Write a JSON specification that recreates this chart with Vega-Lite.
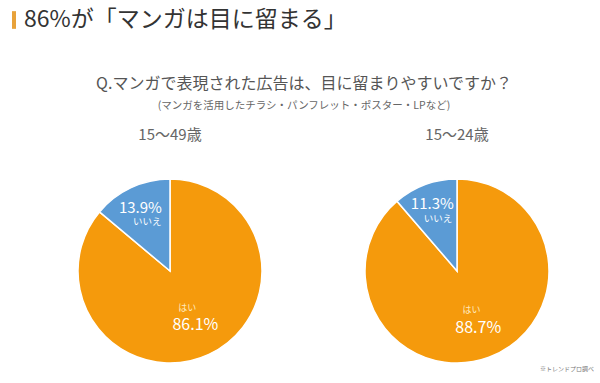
{
  "$schema": "https://vega.github.io/schema/vega-lite/v6.json",
  "padding": {"left": 12, "top": 7, "right": 0, "bottom": 0},
  "background": "white",
  "config": {"font": "Noto Sans CJK JP", "view": {"stroke": null}},
  "title": {"text": "※トレンドプロ調べ", "orient": "bottom", "anchor": "end", "fontSize": 6, "fontWeight": "normal", "color": "#777", "offset": 0, "dx": 8},
  "data": {"values": [
    {"group": "15〜49歳", "answer": "はい", "value": 86.1},
    {"group": "15〜49歳", "answer": "いいえ", "value": 13.9},
    {"group": "15〜24歳", "answer": "はい", "value": 88.7},
    {"group": "15〜24歳", "answer": "いいえ", "value": 11.3}
  ]},
  "spacing": 42,
  "vconcat": [
    {
      "spacing": 8,
      "hconcat": [
        {
          "data": {"values": [{}]},
          "width": 4,
          "height": 26,
          "mark": {"type": "rect", "color": "#E8A23A"},
          "encoding": {
            "x": {"datum": 0, "type": "quantitative", "scale": {"domain": [0, 1]}, "axis": null},
            "x2": {"datum": 1},
            "y": {"datum": 0.16, "type": "quantitative", "scale": {"domain": [0, 1]}, "axis": null},
            "y2": {"datum": 0.84}
          }
        },
        {
          "data": {"values": [{}]},
          "width": 330,
          "height": 26,
          "mark": {"type": "text", "align": "left", "baseline": "middle", "fontSize": 23, "color": "#333"},
          "encoding": {
            "x": {"datum": 0, "type": "quantitative", "scale": {"domain": [0, 1]}, "axis": null},
            "text": {"value": "86%が「マンガは目に留まる」"}
          }
        }
      ]
    },
    {
      "spacing": 0,
      "title": {"text": "Q.マンガで表現された広告は、目に留まりやすいですか？", "subtitle": "(マンガを活用したチラシ・パンフレット・ポスター・LPなど)", "anchor": "middle", "fontSize": 16, "fontWeight": "normal", "color": "#555", "subtitleFontSize": 10.5, "subtitleColor": "#666", "subtitlePadding": 9, "dx": 5, "offset": 17},
      "hconcat": [
        {
          "width": 316,
          "height": 184,
          "title": {"text": "15〜49歳", "fontSize": 15, "color": "#666", "fontWeight": "normal", "offset": 33},
          "transform": [
            {"filter": "datum.group === '15〜49歳'"},
            {"stack": "value", "groupby": [], "sort": [{"field": "answer", "order": "descending"}], "as": ["v0", "v1"]},
            {"calculate": "(datum.v0 + datum.v1) / 2", "as": "mid"},
            {"calculate": "format(datum.value, '.1f') + '%'", "as": "pct"}
          ],
          "layer": [
            {"mark": {"type": "arc", "outerRadius": 92, "stroke": "white", "strokeWidth": 1.5},
             "encoding": {
               "theta": {"field": "v0", "type": "quantitative", "scale": {"domain": [0, 100]}},
               "theta2": {"field": "v1"},
               "color": {"field": "answer", "type": "nominal", "scale": {"domain": ["はい", "いいえ"], "range": ["#F59A0C", "#5B9BD5"]}, "legend": null}}},
            {"transform": [{"filter": "datum.answer === 'いいえ'"}], "mark": {"type": "text", "radius": 70, "fontSize": 15, "fill": "white"}, "encoding": {"theta": {"field": "mid", "type": "quantitative"}, "text": {"field": "pct"}}},
            {"transform": [{"filter": "datum.answer === 'いいえ'"}], "mark": {"type": "text", "radius": 54, "fontSize": 9.5, "fill": "white"}, "encoding": {"theta": {"field": "mid", "type": "quantitative"}, "text": {"field": "answer"}}},
            {"transform": [{"filter": "datum.answer === 'はい'"}], "mark": {"type": "text", "radius": 60, "fontSize": 16, "fill": "white"}, "encoding": {"theta": {"field": "mid", "type": "quantitative"}, "text": {"field": "pct"}}},
            {"transform": [{"filter": "datum.answer === 'はい'"}], "mark": {"type": "text", "radius": 41, "fontSize": 9, "fill": "#FFEBC0"}, "encoding": {"theta": {"field": "mid", "type": "quantitative"}, "text": {"field": "answer"}}}
          ]
        },
        {
          "width": 258,
          "height": 184,
          "title": {"text": "15〜24歳", "fontSize": 15, "color": "#666", "fontWeight": "normal", "offset": 33},
          "transform": [
            {"filter": "datum.group === '15〜24歳'"},
            {"stack": "value", "groupby": [], "sort": [{"field": "answer", "order": "descending"}], "as": ["v0", "v1"]},
            {"calculate": "(datum.v0 + datum.v1) / 2", "as": "mid"},
            {"calculate": "format(datum.value, '.1f') + '%'", "as": "pct"}
          ],
          "layer": [
            {"mark": {"type": "arc", "outerRadius": 92, "stroke": "white", "strokeWidth": 1.5},
             "encoding": {
               "theta": {"field": "v0", "type": "quantitative", "scale": {"domain": [0, 100]}},
               "theta2": {"field": "v1"},
               "color": {"field": "answer", "type": "nominal", "scale": {"domain": ["はい", "いいえ"], "range": ["#F59A0C", "#5B9BD5"]}, "legend": null}}},
            {"transform": [{"filter": "datum.answer === 'いいえ'"}], "mark": {"type": "text", "radius": 71, "fontSize": 15, "fill": "white"}, "encoding": {"theta": {"field": "mid", "type": "quantitative"}, "text": {"field": "pct"}}},
            {"transform": [{"filter": "datum.answer === 'いいえ'"}], "mark": {"type": "text", "radius": 55, "fontSize": 9.5, "fill": "white"}, "encoding": {"theta": {"field": "mid", "type": "quantitative"}, "text": {"field": "answer"}}},
            {"transform": [{"filter": "datum.answer === 'はい'"}], "mark": {"type": "text", "radius": 61, "fontSize": 16, "fill": "white"}, "encoding": {"theta": {"field": "mid", "type": "quantitative"}, "text": {"field": "pct"}}},
            {"transform": [{"filter": "datum.answer === 'はい'"}], "mark": {"type": "text", "radius": 42, "fontSize": 9, "fill": "#FFEBC0"}, "encoding": {"theta": {"field": "mid", "type": "quantitative"}, "text": {"field": "answer"}}}
          ]
        }
      ]
    }
  ]
}
